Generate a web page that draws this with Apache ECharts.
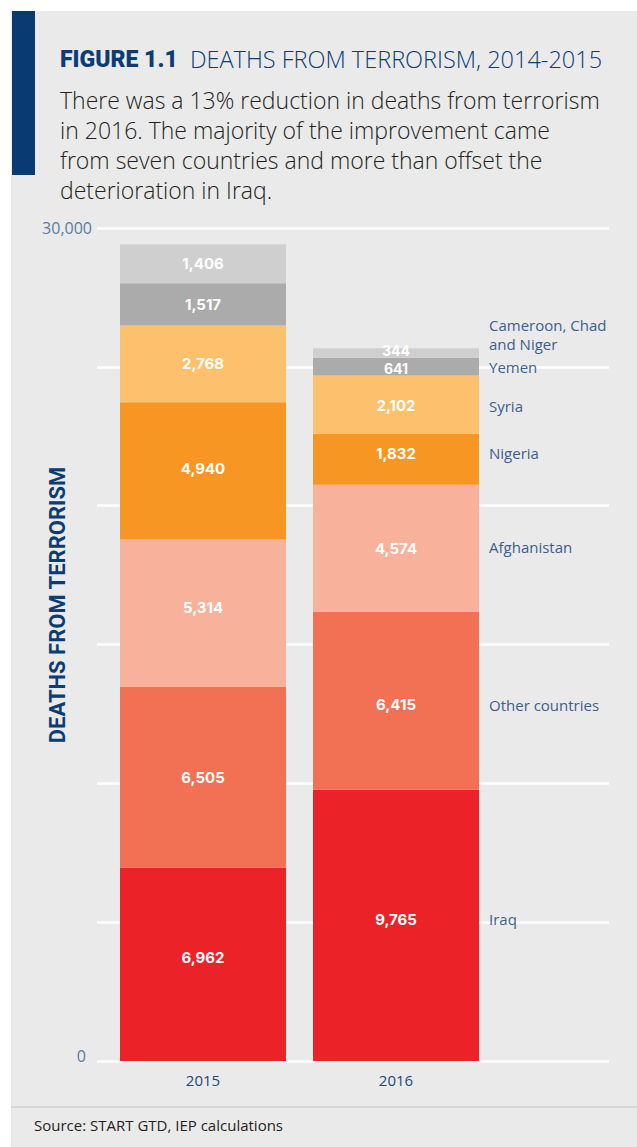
<!DOCTYPE html>
<html>
<head>
<meta charset="utf-8">
<script src="https://cdn.jsdelivr.net/npm/echarts@6/dist/echarts.min.js"></script>
<style>
  html, body { margin: 0; padding: 0; background: #ffffff; }
  #chart { width: 637px; height: 1147px; }
</style>
</head>
<body>
<div id="chart"></div>
<script>
// ---- data ----
const categories = ['2015', '2016'];
const countries = ['Iraq', 'Other countries', 'Afghanistan', 'Nigeria', 'Syria', 'Yemen', 'Cameroon, Chad and Niger'];
const iraq = [6962, 9765];
const otherCountries = [6505, 6415];
const afghanistan = [5314, 4574];
const nigeria = [4940, 1832];
const syria = [2768, 2102];
const yemen = [1517, 641];
const cameroonChadNiger = [1406, 344];
const yTickLabels = [0, 30000];

const seriesValues = [iraq, otherCountries, afghanistan, nigeria, syria, yemen, cameroonChadNiger];

// ---- styles ----
const colors = ['#EC2229', '#F27155', '#F8B19A', '#F79622', '#FDC06D', '#ABABAB', '#CFCFCF'];
// small vertical label nudges (px) per series, [2015, 2016]
const valueNudge = [[-7, -6], [0, 4], [-6, 0], [-2, -6], [0, 1], [0, 2], [0, -2]];
// font size of value labels per series, [2015, 2016]
const valueSize = [[15, 15], [15, 15], [15, 15], [15, 15], [15, 15], [15, 14], [15, 14]];
const nameNudge = [-6, 4, -1, -6, 1, 0, -18];

const fmt = v => Number(v).toLocaleString('en-US');
const FONT = 'Roboto, "Noto Sans", sans-serif';
const OPEN = '"Open Sans", Roboto, sans-serif';

const chart = echarts.init(document.getElementById('chart'), null, { renderer: 'svg' });

const mainSeries = countries.map((name, i) => ({
  name: name,
  type: 'bar',
  stack: 'deaths',
  xAxisIndex: 1,
  yAxisIndex: 1,
  barWidth: 166,
  barGap: '-100%',
  data: seriesValues[i].map((v, j) => ({
    value: v,
    label: { offset: [0, valueNudge[i][j]], fontSize: valueSize[i][j] }
  })),
  itemStyle: { color: colors[i] },
  label: {
    show: true,
    position: 'inside',
    color: '#ffffff',
    fontFamily: 'Inter, Roboto, sans-serif',
    fontWeight: 'bold',
    fontSize: 15,
    lineHeight: 14,
    formatter: p => fmt(p.value)
  },
  emphasis: { disabled: true },
  silent: true
}));

const nameSeries = countries.map((name, i) => ({
  name: name + ' label',
  type: 'bar',
  stack: 'names',
  xAxisIndex: 1,
  yAxisIndex: 1,
  barWidth: 166,
  barGap: '-100%',
  data: seriesValues[i].map((v, j) => j === 1 ? v : '-'),
  itemStyle: { color: 'rgba(0,0,0,0)' },
  label: {
    show: true,
    position: 'right',
    distance: 10,
    color: '#3B5E8E',
    fontFamily: OPEN,
    fontSize: 15,
    lineHeight: 19,
    offset: [0, nameNudge[i]],
    formatter: () => i === 6 ? 'Cameroon, Chad\nand Niger' : name
  },
  emphasis: { disabled: true },
  silent: true
}));

const bodyLines = [
  'There was a 13% reduction in deaths from terrorism',
  'in 2016. The majority of the improvement came',
  'from seven countries and more than offset the',
  'deterioration in Iraq.'
];

const graphics = [
  { type: 'rect', z: -10, shape: { x: 11, y: 11, width: 626, height: 1136 }, style: { fill: '#EAEAEA' } },
  { type: 'rect', z: -9, shape: { x: 12, y: 11, width: 23, height: 164 }, style: { fill: '#0A3A72' } },
  {
    type: 'text', left: 60, top: 47,
    style: {
      text: '{b|FIGURE 1.1}{l|  DEATHS FROM TERRORISM, 2014-2015}',
      rich: {
        b: { fontFamily: FONT, fontWeight: 900, fontSize: 23, fill: '#0B3C73' },
        l: { fontFamily: OPEN, fontWeight: 300, fontSize: 23.5, fill: '#0B3C73' }
      }
    }
  },
  { type: 'line', shape: { x1: 11, y1: 1107, x2: 637, y2: 1107 }, style: { stroke: '#D2D2D2', lineWidth: 1.5 } },
  { type: 'text', left: 34, top: 1117, style: { text: 'Source: START GTD, IEP calculations', fontFamily: OPEN, fontSize: 15, fill: '#231F20' } },
  {
    type: 'text', x: 57, y: 605, rotation: Math.PI / 2,
    style: { text: 'DEATHS FROM TERRORISM', fontFamily: FONT, fontWeight: 'bold', fontSize: 22, fill: '#0B3C73', align: 'center', verticalAlign: 'middle' }
  }
];
bodyLines.forEach((t, k) => {
  graphics.push({
    type: 'text', left: 60, top: 88 + k * 30.3,
    style: { text: t, fontFamily: OPEN, fontWeight: 300, fontSize: 23, fill: '#231F20' }
  });
});

chart.setOption({
  animation: false,
  backgroundColor: '#ffffff',
  graphic: graphics,
  grid: [
    { left: 97, right: 28, top: 228, bottom: 86 },
    { left: 106.5, width: 386, top: 228, bottom: 86 }
  ],
  xAxis: [
    { gridIndex: 0, type: 'value', show: false },
    {
      gridIndex: 1, type: 'category', data: categories,
      axisLine: { show: false }, axisTick: { show: false },
      axisLabel: { color: '#1E477A', fontFamily: OPEN, fontSize: 15, margin: 11 }
    }
  ],
  yAxis: [
    {
      gridIndex: 0, type: 'value', min: 0, max: 30000, interval: 5000,
      axisLine: { show: false }, axisTick: { show: false },
      splitLine: { show: true, lineStyle: { color: '#ffffff', width: 2.5 } },
      axisLabel: {
        color: '#5A7BA3', fontFamily: OPEN, fontSize: 16, margin: 5,
        formatter: v => {
          if (yTickLabels.indexOf(v) < 0) return '';
          return v === 0 ? '{z|' + fmt(v) + '}' : fmt(v);
        },
        rich: { z: { fontFamily: OPEN, fontSize: 16, color: '#5A7BA3', padding: [0, 6, 10, 0] } }
      }
    },
    { gridIndex: 1, type: 'value', min: 0, max: 30000, show: false }
  ],
  series: mainSeries.concat(nameSeries)
});
</script>
</body>
</html>
